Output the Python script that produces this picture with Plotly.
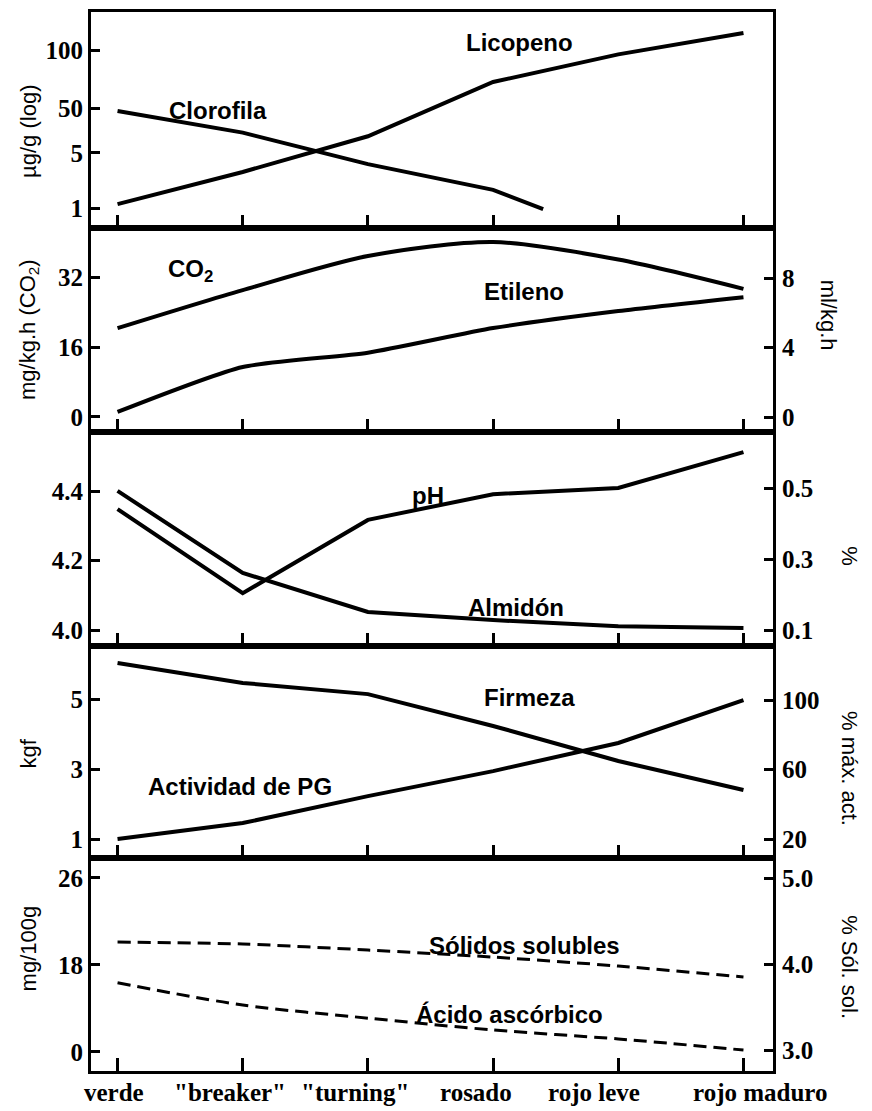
import plotly.graph_objects as go

# ---------------- data ----------------
stages = ["verde", '"breaker"', '"turning"', "rosado", "rojo leve", "rojo maduro"]
stage_pos = [0, 1, 2, 3, 4, 5]
# horizontal shift of each category label relative to its tick (as drawn)
stage_label_shift = [-0.03, -0.10, -0.10, -0.14, -0.19, 0.14]

# Panel 1: µg/g (log)
licopeno = [1.12, 2.86, 8.1, 39.4, 88.0, 164.0]
clorofila_x = [0, 1, 2, 3, 3.4]
clorofila = [16.9, 9.0, 3.6, 1.7, 0.97]
p1_tickvals = [1, 5, 18.4, 100]          # positions where the labels are drawn
p1_ticktext = ["1", "5", "50", "100"]

# Panel 2: CO2 (mg/kg.h, left) and Etileno (ml/kg.h, right)
co2 = [20.3, 29.0, 36.8, 40.0, 36.0, 29.3]
etileno = [0.29, 2.88, 3.7, 5.12, 6.1, 6.9]
p2_left_ticks = [0, 16, 32]
p2_right_ticks = [0, 4, 8]

# Panel 3: pH (left) and Almidón (%, right)
ph = [4.348, 4.106, 4.317, 4.391, 4.409, 4.512]
almidon = [0.492, 0.261, 0.151, 0.128, 0.111, 0.106]
p3_left_ticks = [4.0, 4.2, 4.4]
p3_right_ticks = [0.1, 0.3, 0.5]

# Panel 4: Firmeza (kgf, left) and Actividad de PG (% máx. act., right)
firmeza = [6.03, 5.46, 5.14, 4.23, 3.23, 2.4]
pg = [20.0, 29.2, 44.7, 59.1, 75.3, 100.0]
p4_left_ticks = [1, 3, 5]
p4_right_ticks = [20, 60, 100]

# Panel 5: Ácido ascórbico (mg/100g, left) and Sólidos solubles (% Sól. sol., right)
ascorbico = [14.3, 9.7, 7.0, 4.55, 2.7, 0.4]
solidos = [4.256, 4.233, 4.163, 4.081, 3.977, 3.849]
p5_left_tickvals = [0, 18, 36]          # positions where the labels are drawn
p5_left_ticktext = ["0", "18", "26"]
p5_right_ticks = [3.0, 4.0, 5.0]

# ---------------- figure ----------------
fig = go.Figure()
LW = 4
blk = "black"

fig.add_trace(go.Scatter(x=stage_pos, y=licopeno, mode="lines", line=dict(color=blk, width=LW), xaxis="x", yaxis="y"))
fig.add_trace(go.Scatter(x=clorofila_x, y=clorofila, mode="lines", line=dict(color=blk, width=LW), xaxis="x", yaxis="y"))

fig.add_trace(go.Scatter(x=stage_pos, y=co2, mode="lines", line=dict(color=blk, width=LW, shape="spline", smoothing=0.8), xaxis="x2", yaxis="y2"))
fig.add_trace(go.Scatter(x=stage_pos, y=etileno, mode="lines", line=dict(color=blk, width=LW, shape="spline", smoothing=0.6), xaxis="x2", yaxis="y3"))

fig.add_trace(go.Scatter(x=stage_pos, y=ph, mode="lines", line=dict(color=blk, width=LW), xaxis="x3", yaxis="y4"))
fig.add_trace(go.Scatter(x=stage_pos, y=almidon, mode="lines", line=dict(color=blk, width=LW), xaxis="x3", yaxis="y5"))

fig.add_trace(go.Scatter(x=stage_pos, y=firmeza, mode="lines", line=dict(color=blk, width=LW), xaxis="x4", yaxis="y6"))
fig.add_trace(go.Scatter(x=stage_pos, y=pg, mode="lines", line=dict(color=blk, width=LW), xaxis="x4", yaxis="y7"))

fig.add_trace(go.Scatter(x=stage_pos, y=ascorbico, mode="lines", line=dict(color=blk, width=3, dash="13px,7px", shape="spline", smoothing=0.8), xaxis="x5", yaxis="y8"))
fig.add_trace(go.Scatter(x=stage_pos, y=solidos, mode="lines", line=dict(color=blk, width=3, dash="13px,7px", shape="spline", smoothing=0.8), xaxis="x5", yaxis="y9"))

tickfont = dict(family="Liberation Serif", size=25, color=blk, weight="bold")
domains = [[0.7960, 1.0], [0.6034, 0.7960], [0.4013, 0.6034], [0.2011, 0.4013], [0.0, 0.2011]]
left_axes = ["y", "y2", "y4", "y6", "y8"]

layout = dict(
    width=872, height=1111,
    margin=dict(l=91, r=99, t=12, b=40, autoexpand=False),
    plot_bgcolor="white", paper_bgcolor="white",
    showlegend=False,
)

for i in range(5):
    key = "xaxis" if i == 0 else f"xaxis{i+1}"
    layout[key] = dict(
        domain=[0, 1], anchor=left_axes[i], range=[-0.212, 5.236],
        tickmode="array", tickvals=stage_pos,
        ticks="inside", ticklen=13, tickwidth=3, tickcolor=blk,
        showline=True, mirror=True, linewidth=3, linecolor=blk,
        showgrid=False, zeroline=False, automargin=False,
        showticklabels=False,
    )

def left_axis(dom, xa, rng, **kw):
    d = dict(domain=dom, anchor=xa, range=rng, ticks="inside", ticklen=9, tickwidth=3, tickcolor=blk,
             showline=True, mirror=True, linewidth=3, linecolor=blk, showgrid=False, zeroline=False,
             tickfont=tickfont, tickmode="array", automargin=False)
    d.update(kw)
    return d

def right_axis(over, xa, rng, **kw):
    d = dict(overlaying=over, anchor=xa, side="right", range=rng, ticks="inside", ticklen=9, tickwidth=3,
             tickcolor=blk, showline=False, showgrid=False, zeroline=False, tickfont=tickfont,
             tickmode="array", automargin=False, ticklabelstandoff=8)
    d.update(kw)
    return d

layout["yaxis"] = left_axis(domains[0], "x", [-0.253, 2.481], type="log", tickvals=p1_tickvals, ticktext=p1_ticktext)
layout["yaxis2"] = left_axis(domains[1], "x2", [-3.43, 43.2], tickvals=p2_left_ticks)
layout["yaxis3"] = right_axis("y2", "x2", [-0.863, 10.88], tickvals=p2_right_ticks)
layout["yaxis4"] = left_axis(domains[2], "x3", [3.954, 4.570], tickvals=p3_left_ticks, ticktext=["4.0", "4.2", "4.4"])
layout["yaxis5"] = right_axis("y4", "x3", [0.055, 0.658], tickvals=p3_right_ticks, ticktext=["0.1", "0.3", "0.5"])
layout["yaxis6"] = left_axis(domains[3], "x4", [0.457, 6.514], tickvals=p4_left_ticks)
layout["yaxis7"] = right_axis("y6", "x4", [9.07, 131.1], tickvals=p4_right_ticks)
layout["yaxis8"] = left_axis(domains[4], "x5", [-3.93, 40.1], tickvals=p5_left_tickvals, ticktext=p5_left_ticktext)
layout["yaxis9"] = right_axis("y8", "x5", [2.756, 5.233], tickvals=p5_right_ticks, ticktext=["3.0", "4.0", "5.0"])

fig.update_layout(**layout)

# ---------------- category labels (below bottom panel) ----------------
for name, pos, sh in zip(stages, stage_pos, stage_label_shift):
    fig.add_annotation(text=name, x=pos + sh, y=-0.0205, xref="x5", yref="paper", showarrow=False,
                       xanchor="center", yanchor="middle", font=tickfont)

# ---------------- curve labels ----------------
lab_font = dict(family="Liberation Sans", size=24, color=blk, weight="bold")
curve_labels = [
    ("Licopeno", 3.21, 2.089, "x", "y"),
    ("Clorofila", 0.80, 1.24, "x", "y"),
    ("CO<sub>2</sub>", 0.58, 33.6, "x2", "y2"),
    ("Etileno", 3.25, 28.8, "x2", "y2"),
    ("pH", 2.48, 4.386, "x3", "y4"),
    ("Almidón", 3.18, 4.066, "x3", "y4"),
    ("Firmeza", 3.29, 5.03, "x4", "y6"),
    ("Actividad de PG", 0.98, 2.49, "x4", "y6"),
    ("Sólidos solubles", 3.25, 22.1, "x5", "y8"),
    ("Ácido ascórbico", 3.13, 7.66, "x5", "y8"),
]
for txt, x, y, xr, yr in curve_labels:
    fig.add_annotation(text=txt, x=x, y=y, xref=xr, yref=yr, showarrow=False,
                       xanchor="center", yanchor="middle", font=lab_font)

# ---------------- axis titles ----------------
title_font = dict(family="Liberation Sans", size=22, color=blk)
axis_titles = [
    ("µg/g (log)", -0.092, 0.887, -90),
    ("mg/kg.h (CO<sub>2</sub>)", -0.092, 0.700, -90),
    ("kgf", -0.092, 0.300, -90),
    ("mg/100g", -0.092, 0.116, -90),
    ("ml/kg.h", 1.081, 0.714, 90),
    ("%", 1.113, 0.486, 90),
    ("% máx. act.", 1.113, 0.286, 90),
    ("% Sól. sol.", 1.113, 0.098, 90),
]
for txt, x, y, ang in axis_titles:
    fig.add_annotation(text=txt, x=x, y=y, xref="paper", yref="paper", showarrow=False,
                       xanchor="center", yanchor="middle", textangle=ang, font=title_font)

fig.write_html("out.html")
